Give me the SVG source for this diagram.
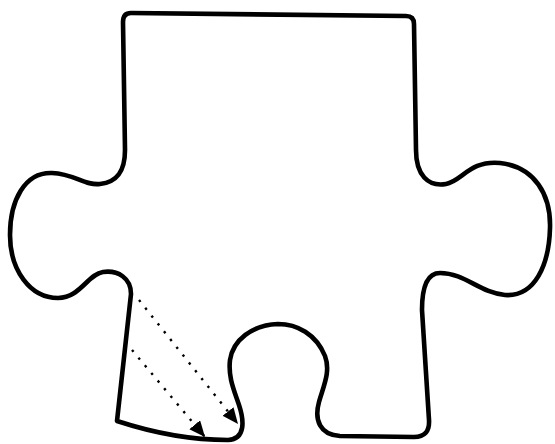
<svg xmlns="http://www.w3.org/2000/svg" width="555" height="444" viewBox="0 0 555 444">
<style>
.piece{fill:#fff;stroke:#000;stroke-width:4.6;stroke-linejoin:round;stroke-linecap:round}
.dot{fill:none;stroke:#000;stroke-width:2.4;stroke-dasharray:2.4 7.6}
</style>
<defs>
<marker id="ah" markerUnits="userSpaceOnUse" markerWidth="17" markerHeight="15" refX="16" refY="7" orient="auto">
<path d="M0,0 L16,7 L0,14 z" fill="#000"/>
</marker>
</defs>
<rect width="555" height="444" fill="#fff"/>
<g id="piece">
<path class="piece" d="M 416 150 C 416 175 428 187 446 184 C 462 181 470 160 500 163 C 535 167 551 195 550 228 C 549 265 535 297 505 295 C 480 293 465 273 440 273 C 428 273 422 285 422 310 L 429 420 Q 430 437 414 437 L 340 436 C 320 435 314 420 319 402 C 323 387 331 372 325 356 C 316 334 297 324 278 324 C 252 325 233 340 230 360 C 228 377 234 390 239 405 C 244 420 246 439 228 440 Q 175 440 117 421 L 131 294 C 131 278 118 270 103 272 C 88 274 80 298 58 298 C 30 298 10 270 10 235 C 10 200 25 172 52 173 C 75 174 85 186 100 184 C 118 182 125 170 125 150 L 123 22 Q 123 13 131 13 L 406 16 Q 414 16 414 24 Z"/>
</g>
<g id="connectors">
<path class="dot" d="M 139 300 L 238 424" marker-end="url(#ah)"/>
<path class="dot" d="M 132 350 L 205 437" marker-end="url(#ah)"/>
</g>
</svg>
